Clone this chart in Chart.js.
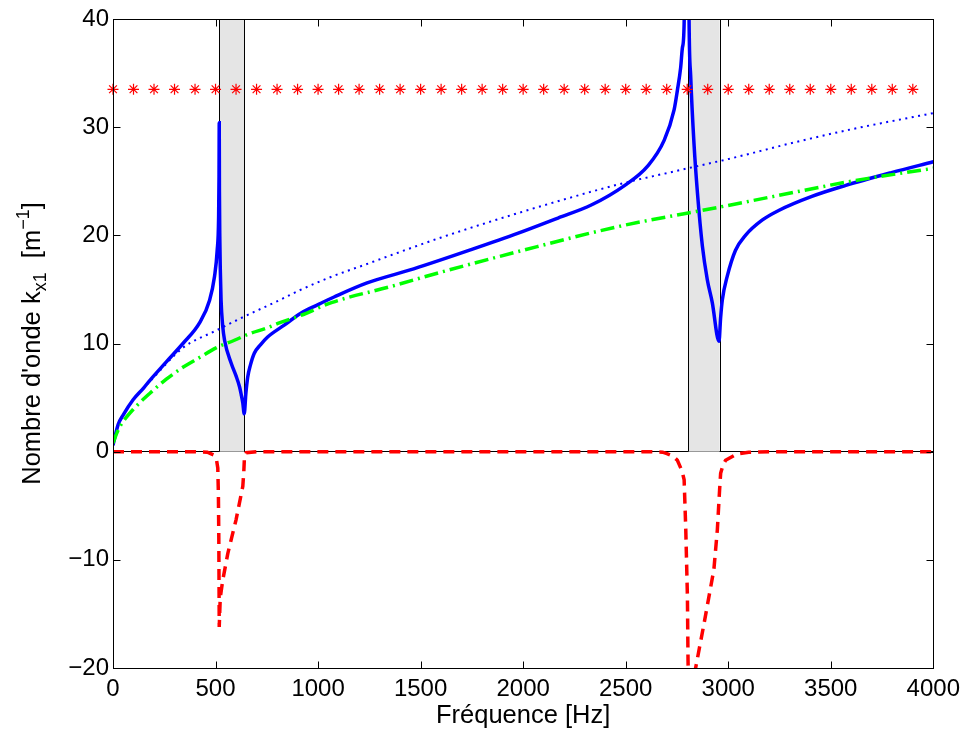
<!DOCTYPE html>
<html>
<head>
<meta charset="utf-8">
<script src="https://cdn.jsdelivr.net/npm/chart.js@4.4.1/dist/chart.umd.min.js"></script>
<style>
    html, body { margin: 0; padding: 0; background: #fff; }
    #wrap { width: 967px; height: 731px; position: relative; }
</style>
</head>
<body>
<div id="wrap"><canvas id="kChart"></canvas></div>
<script>
// partie reelle kx1 (trait plein bleu)
const freqReel = [0, 25, 50, 98, 150, 180, 260, 341, 422, 471, 495, 508, 515, 517, 518, 519, 521, 523, 527, 535, 544, 576, 600, 617, 625, 633, 640, 648, 657, 670, 689, 720, 754, 835, 916, 1000, 1078, 1239, 1466, 1750, 1976, 2170, 2332, 2494, 2607, 2688, 2736, 2752, 2768, 2777, 2785, 2797, 2809, 2817, 2833, 2850, 2874, 2898, 2922, 2955, 2963, 2971, 2995, 3035, 3084, 3165, 3246, 3408, 3570, 3796, 4000];
const kReel = [0.6, 2.5, 3.4, 4.8, 5.9, 6.6, 8.3, 10.0, 11.9, 14.0, 16.2, 18.6, 21.7, 25.5, 30.4, 24.0, 19.5, 17.0, 14.0, 11.6, 10.3, 8.2, 7.0, 6.0, 5.3, 4.5, 3.5, 5.4, 6.9, 8.0, 9.1, 9.9, 10.6, 11.7, 12.8, 13.6, 14.3, 15.6, 16.9, 18.7, 20.2, 21.6, 22.8, 24.6, 26.4, 28.8, 31.6, 33.4, 35.5, 37.4, 39.6, 80.0, 40.0, 34.7, 28.5, 23.9, 19.0, 15.9, 13.8, 10.2, 12.4, 14.0, 16.2, 18.6, 20.0, 21.4, 22.3, 23.6, 24.6, 25.8, 26.8];

// partie imaginaire kx1 (tirets rouges)
const freqImag = [0, 400, 460, 490, 505, 511, 514, 516, 517, 518, 523, 535, 560, 600, 633, 638, 641, 650, 700, 2600, 2680, 2704, 2730, 2752, 2775, 2785, 2793, 2801, 2804, 2808, 2815, 2830, 2841, 2882, 2930, 2947, 2958, 2963, 2975, 2987, 3044, 3100, 3200, 4000];
const kImag = [0, 0, -0.05, -0.3, -0.8, -1.5, -4.0, -8.0, -12.0, -16.2, -13.5, -11.9, -9.4, -6.3, -3.2, -1.8, -0.5, -0.1, 0, 0, -0.05, -0.2, -0.4, -0.8, -1.8, -2.6, -7.2, -13.4, -19.3, -23.0, -22.6, -21.4, -20.0, -15.9, -10.9, -7.2, -3.5, -2.0, -1.2, -0.8, -0.2, -0.05, 0, 0];

// nombre d'onde acoustique (pointille bleu)
const freqFluide = [0, 25, 50, 100, 200, 341, 503, 641, 811, 908, 1069, 1231, 1361, 1600, 2000, 2364, 2526, 2688, 2850, 3011, 3303, 3600, 4000];
const kFluide = [0.5, 2.4, 3.4, 4.8, 6.9, 9.6, 11.2, 12.5, 14.0, 14.9, 16.2, 17.3, 18.2, 19.8, 22.2, 24.2, 25.0, 25.7, 26.4, 27.1, 28.5, 29.8, 31.3];

// nombre d'onde de flexion (tiret-point vert)
const freqFlexion = [0, 25, 50, 98, 180, 260, 341, 422, 503, 592, 665, 746, 811, 916, 1069, 1361, 1600, 1976, 2461, 2785, 2955, 3222, 3600, 4000];
const kFlexion = [0.8, 2.0, 2.8, 3.9, 5.4, 6.7, 7.8, 8.7, 9.6, 10.3, 10.9, 11.4, 11.9, 12.6, 13.8, 15.3, 16.6, 18.5, 20.8, 22.0, 22.6, 23.6, 25.0, 26.2];

// etoiles rouges
const freqEtoiles = [0, 100, 200, 300, 400, 500, 600, 700, 800, 900, 1000, 1100, 1200, 1300, 1400, 1500, 1600, 1700, 1800, 1900, 2000, 2100, 2200, 2300, 2400, 2500, 2600, 2700, 2800, 2900, 3000, 3100, 3200, 3300, 3400, 3500, 3600, 3700, 3800, 3900];
const kEtoiles = [33.5, 33.5, 33.5, 33.5, 33.5, 33.5, 33.5, 33.5, 33.5, 33.5, 33.5, 33.5, 33.5, 33.5, 33.5, 33.5, 33.5, 33.5, 33.5, 33.5, 33.5, 33.5, 33.5, 33.5, 33.5, 33.5, 33.5, 33.5, 33.5, 33.5, 33.5, 33.5, 33.5, 33.5, 33.5, 33.5, 33.5, 33.5, 33.5, 33.5];

// bandes interdites (zones grises)
const bandeDebut = [518, 2804];
const bandeFin = [641, 2958];

const xTicks = [0, 500, 1000, 1500, 2000, 2500, 3000, 3500, 4000];
const yTicks = [-20, -10, 0, 10, 20, 30, 40];

const policeAxes = "'Liberation Sans', Arial, Helvetica, sans-serif";

function points(xs, ys) {
    return xs.map(function(x, i) { return { x: x, y: ys[i] }; });
}

const bandesPlugin = {
    id: 'bandes',
    beforeDatasetsDraw: function(chart) {
        const ctx = chart.ctx, sx = chart.scales.x, sy = chart.scales.y;
        const yHaut = sy.getPixelForValue(sy.max);
        const yBas = sy.getPixelForValue(0);
        ctx.save();
        for (let i = 0; i < bandeDebut.length; i++) {
            const x0 = sx.getPixelForValue(bandeDebut[i]);
            const x1 = sx.getPixelForValue(bandeFin[i]);
            ctx.fillStyle = '#e5e5e5';
            ctx.fillRect(x0, yHaut, x1 - x0, yBas - yHaut);
            ctx.strokeStyle = '#000';
            ctx.lineWidth = 1;
            ctx.beginPath();
            ctx.moveTo(Math.round(x0) + 0.5, yHaut);
            ctx.lineTo(Math.round(x0) + 0.5, yBas);
            ctx.moveTo(Math.round(x1) + 0.5, yHaut);
            ctx.lineTo(Math.round(x1) + 0.5, yBas);
            ctx.stroke();
        }
        ctx.restore();
    }
};

const cadrePlugin = {
    id: 'cadre',
    afterDatasetsDraw: function(chart) {
        const ctx = chart.ctx, a = chart.chartArea, sx = chart.scales.x, sy = chart.scales.y;
        const l = Math.round(a.left) + 0.5, r = Math.round(a.right) + 0.5;
        const t = Math.round(a.top) + 0.5, b = Math.round(a.bottom) + 0.5;
        const lg = 7;
        ctx.save();
        ctx.strokeStyle = '#000';
        ctx.lineWidth = 1;
        ctx.strokeRect(l, t, r - l, b - t);
        ctx.beginPath();
        xTicks.forEach(function(v) {
            const p = Math.round(sx.getPixelForValue(v)) + 0.5;
            ctx.moveTo(p, b); ctx.lineTo(p, b - lg);
            ctx.moveTo(p, t); ctx.lineTo(p, t + lg);
        });
        yTicks.forEach(function(v) {
            const p = Math.round(sy.getPixelForValue(v)) + 0.5;
            ctx.moveTo(l, p); ctx.lineTo(l + lg, p);
            ctx.moveTo(r, p); ctx.lineTo(r - lg, p);
        });
        ctx.stroke();

        // titre de l'axe y avec indice et exposant
        const morceaux = [
            { t: "Nombre d'onde k", taille: 25.5, dy: 0 },
            { t: 'x1', taille: 18, dy: 6 },
            { t: '  [m', taille: 25.5, dy: 0 },
            { t: '\u22121', taille: 18, dy: -11 },
            { t: ']', taille: 25.5, dy: 0 }
        ];
        let total = 0;
        morceaux.forEach(function(m) {
            ctx.font = m.taille + 'px ' + policeAxes;
            m.w = ctx.measureText(m.t).width;
            total += m.w;
        });
        ctx.translate(40, (a.top + a.bottom) / 2);
        ctx.rotate(-Math.PI / 2);
        ctx.fillStyle = '#000';
        ctx.textBaseline = 'alphabetic';
        ctx.textAlign = 'left';
        let pos = -total / 2;
        morceaux.forEach(function(m) {
            ctx.font = m.taille + 'px ' + policeAxes;
            ctx.fillText(m.t, pos, m.dy);
            pos += m.w;
        });
        ctx.restore();
    }
};

function moins(v) {
    return v < 0 ? '\u2212' + Math.abs(v) : String(v);
}

var ctx = document.getElementById('kChart').getContext('2d');
var kChart = new Chart(ctx, {
    type: 'line',
    data: {
        datasets: [{
            label: 'etoiles',
            data: points(freqEtoiles, kEtoiles),
            showLine: false,
            pointStyle: 'star',
            pointRadius: 5.5,
            pointBorderColor: '#ff0000',
            pointBorderWidth: 1.2,
            clip: false
        }, {
            label: 'flexion',
            data: points(freqFlexion, kFlexion),
            borderColor: '#00ff00',
            borderWidth: 3.5,
            borderDash: [14, 5, 2, 5],
            pointRadius: 0,
            cubicInterpolationMode: 'monotone'
        }, {
            label: 'imaginaire',
            data: points(freqImag, kImag),
            borderColor: '#ff0000',
            borderWidth: 3.5,
            borderDash: [11, 7],
            pointRadius: 0,
            tension: 0
        }, {
            label: 'fluide',
            data: points(freqFluide, kFluide),
            borderColor: '#0000ff',
            borderWidth: 2,
            borderDash: [2, 4.5],
            pointRadius: 0,
            cubicInterpolationMode: 'monotone'
        }, {
            label: 'reel',
            data: points(freqReel, kReel),
            borderColor: '#0000ff',
            borderWidth: 3.5,
            pointRadius: 0,
            cubicInterpolationMode: 'monotone'
        }]
    },
    options: {
        responsive: true,
        maintainAspectRatio: false,
        animation: false,
        events: [],
        layout: {
            padding: { top: 19, right: 30, left: 0, bottom: 0 }
        },
        plugins: {
            legend: { display: false },
            tooltip: { enabled: false }
        },
        scales: {
            x: {
                type: 'linear',
                min: 0,
                max: 4000,
                afterFit: function(s) { s.height = 63; },
                afterBuildTicks: function(s) { s.ticks = xTicks.map(function(v) { return { value: v }; }); },
                grid: { display: false, drawTicks: false },
                border: { display: false },
                ticks: {
                    padding: 7,
                    color: '#000',
                    maxRotation: 0,
                    font: { family: policeAxes, size: 24 },
                    callback: function(v) { return moins(v); }
                },
                title: {
                    display: true,
                    text: 'Fréquence [Hz]',
                    color: '#000',
                    padding: { top: 0, bottom: 0 },
                    font: { family: policeAxes, size: 25.5, lineHeight: 1.2 }
                }
            },
            y: {
                type: 'linear',
                min: -20,
                max: 40,
                afterFit: function(s) { s.width = 113; },
                afterBuildTicks: function(s) { s.ticks = yTicks.map(function(v) { return { value: v }; }); },
                grid: {
                    drawTicks: false,
                    color: function(c) { return c.tick && c.tick.value === 0 ? '#000' : 'rgba(0,0,0,0)'; },
                    lineWidth: 1
                },
                border: { display: false },
                ticks: {
                    padding: 4,
                    color: '#000',
                    font: { family: policeAxes, size: 24 },
                    callback: function(v) { return moins(v); }
                }
            }
        }
    },
    plugins: [bandesPlugin, cadrePlugin]
});
</script>
</body>
</html>
